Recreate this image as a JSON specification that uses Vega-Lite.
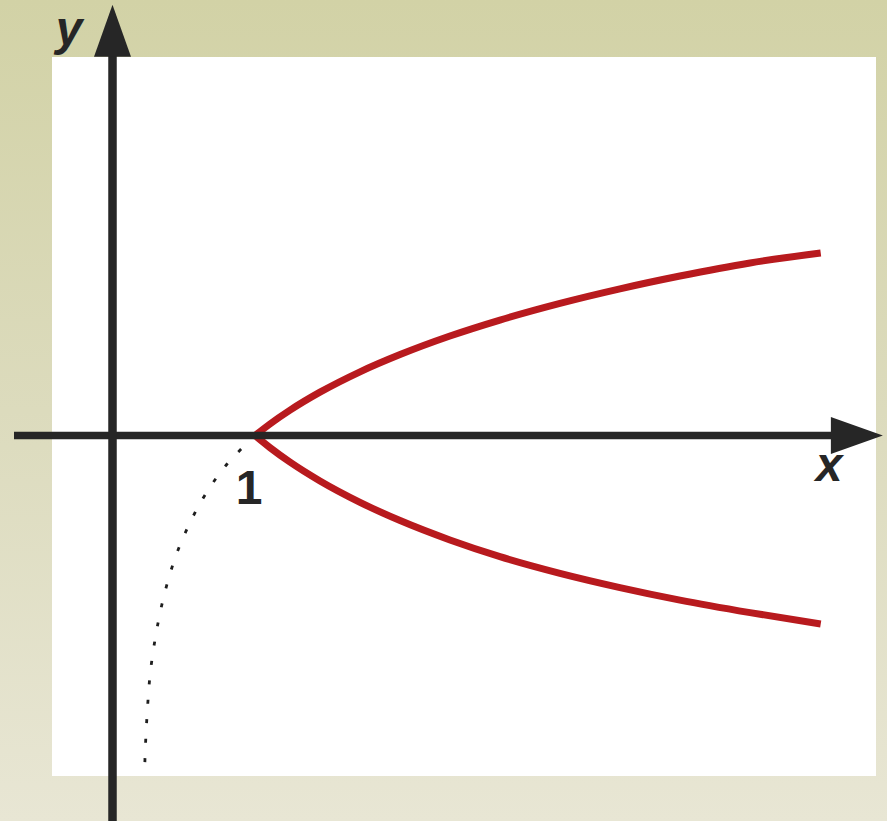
{
  "$schema": "https://vega.github.io/schema/vega-lite/v6.json",
  "width": 887,
  "height": 821,
  "padding": 0,
  "autosize": {"type": "none"},
  "background": "#d8d8b4",
  "config": {"view": {"stroke": null}},
  "encoding": {
    "x": {"field": "x", "type": "quantitative", "scale": {"domain": [-0.7895, 5.4351], "nice": false, "zero": false}, "axis": null},
    "y": {"field": "y", "type": "quantitative", "scale": {"domain": [-2.7053, 3.0561], "nice": false, "zero": false}, "axis": null}
  },
  "layer": [
    {
      "data": {"values": [{"x": -0.7895, "x2": 5.4351, "y": -2.7053, "y2": 3.0561}]},
      "mark": {"type": "rect", "color": {"gradient": "linear", "x1": 0, "y1": 0, "x2": 0, "y2": 1, "stops": [{"offset": 0, "color": "#d2d2a6"}, {"offset": 0.5, "color": "#dcdbbd"}, {"offset": 1, "color": "#e8e6d4"}]}},
      "encoding": {"x2": {"field": "x2"}, "y2": {"field": "y2"}}
    },
    {
      "data": {"values": [{"x": -0.4246, "x2": 5.3579, "y": -2.3895, "y2": 2.6561}]},
      "mark": {"type": "rect", "color": "#ffffff"},
      "encoding": {"x2": {"field": "x2"}, "y2": {"field": "y2"}}
    },
    {
      "data": {"values": [
        {"i": 0, "x": 1.000, "y": 0.000},
        {"i": 1, "x": 0.804, "y": -0.200},
        {"i": 2, "x": 0.651, "y": -0.415},
        {"i": 3, "x": 0.537, "y": -0.626},
        {"i": 4, "x": 0.441, "y": -0.855},
        {"i": 5, "x": 0.361, "y": -1.126},
        {"i": 6, "x": 0.305, "y": -1.395},
        {"i": 7, "x": 0.265, "y": -1.667},
        {"i": 8, "x": 0.244, "y": -1.938},
        {"i": 9, "x": 0.230, "y": -2.205},
        {"i": 10, "x": 0.226, "y": -2.340}
      ]},
      "mark": {"type": "line", "color": "#1e1e1e", "strokeWidth": 2.8, "strokeDash": [4, 15.5], "interpolate": "catmull-rom"},
      "encoding": {"order": {"field": "i", "type": "quantitative"}}
    },
    {
      "data": {"values": [
        {"b": "up", "x": 1.000, "y": 0.000},
        {"b": "up", "x": 1.105, "y": 0.081},
        {"b": "up", "x": 1.246, "y": 0.178},
        {"b": "up", "x": 1.456, "y": 0.304},
        {"b": "up", "x": 1.737, "y": 0.447},
        {"b": "up", "x": 2.018, "y": 0.568},
        {"b": "up", "x": 2.368, "y": 0.698},
        {"b": "up", "x": 2.719, "y": 0.810},
        {"b": "up", "x": 3.140, "y": 0.927},
        {"b": "up", "x": 3.561, "y": 1.029},
        {"b": "up", "x": 3.982, "y": 1.119},
        {"b": "up", "x": 4.474, "y": 1.211},
        {"b": "up", "x": 4.970, "y": 1.281},
        {"b": "down", "x": 1.000, "y": 0.000},
        {"b": "down", "x": 1.105, "y": -0.085},
        {"b": "down", "x": 1.246, "y": -0.187},
        {"b": "down", "x": 1.456, "y": -0.319},
        {"b": "down", "x": 1.737, "y": -0.469},
        {"b": "down", "x": 2.018, "y": -0.597},
        {"b": "down", "x": 2.368, "y": -0.733},
        {"b": "down", "x": 2.719, "y": -0.850},
        {"b": "down", "x": 3.140, "y": -0.967},
        {"b": "down", "x": 3.561, "y": -1.067},
        {"b": "down", "x": 3.982, "y": -1.155},
        {"b": "down", "x": 4.474, "y": -1.243},
        {"b": "down", "x": 4.970, "y": -1.323}
      ]},
      "mark": {"type": "line", "color": "#b81a1e", "strokeWidth": 7, "strokeCap": "butt", "interpolate": "monotone"},
      "encoding": {"detail": {"field": "b", "type": "nominal"}}
    },
    {
      "data": {"values": [{"x": -0.6912, "x2": 5.14, "y": 0}]},
      "mark": {"type": "rule", "color": "#262626", "strokeWidth": 7.5, "strokeCap": "butt"},
      "encoding": {"x2": {"field": "x2"}}
    },
    {
      "data": {"values": [{"x": 0, "y": -2.8, "y2": 2.775}]},
      "mark": {"type": "rule", "color": "#262626", "strokeWidth": 8.5, "strokeCap": "butt"},
      "encoding": {"y2": {"field": "y2"}}
    },
    {
      "data": {"values": [{"x": 0, "y": 2.8397}]},
      "mark": {"type": "point", "shape": "M0,-1L0.7115,1L-0.7115,1Z", "size": 2704, "filled": true, "color": "#262626", "opacity": 1, "strokeWidth": 0}
    },
    {
      "data": {"values": [{"x": 5.2235, "y": 0}]},
      "mark": {"type": "point", "shape": "M1,0L-1,0.7115L-1,-0.7115Z", "size": 2704, "filled": true, "color": "#262626", "opacity": 1, "strokeWidth": 0}
    },
    {
      "data": {"values": [{"x": -0.3053, "y": 2.740, "t": "y"}, {"x": 5.028, "y": -0.3193, "t": "x"}]},
      "mark": {"type": "text", "font": "Liberation Sans", "fontSize": 48, "fontWeight": "bold", "fontStyle": "italic", "color": "#262626", "align": "center", "baseline": "alphabetic"},
      "encoding": {"text": {"field": "t"}}
    },
    {
      "data": {"values": [{"x": 0.958, "y": -0.4807, "t": "1"}]},
      "mark": {"type": "text", "font": "Liberation Sans", "fontSize": 48, "fontWeight": "bold", "color": "#262626", "align": "center", "baseline": "alphabetic"},
      "encoding": {"text": {"field": "t"}}
    }
  ]
}
